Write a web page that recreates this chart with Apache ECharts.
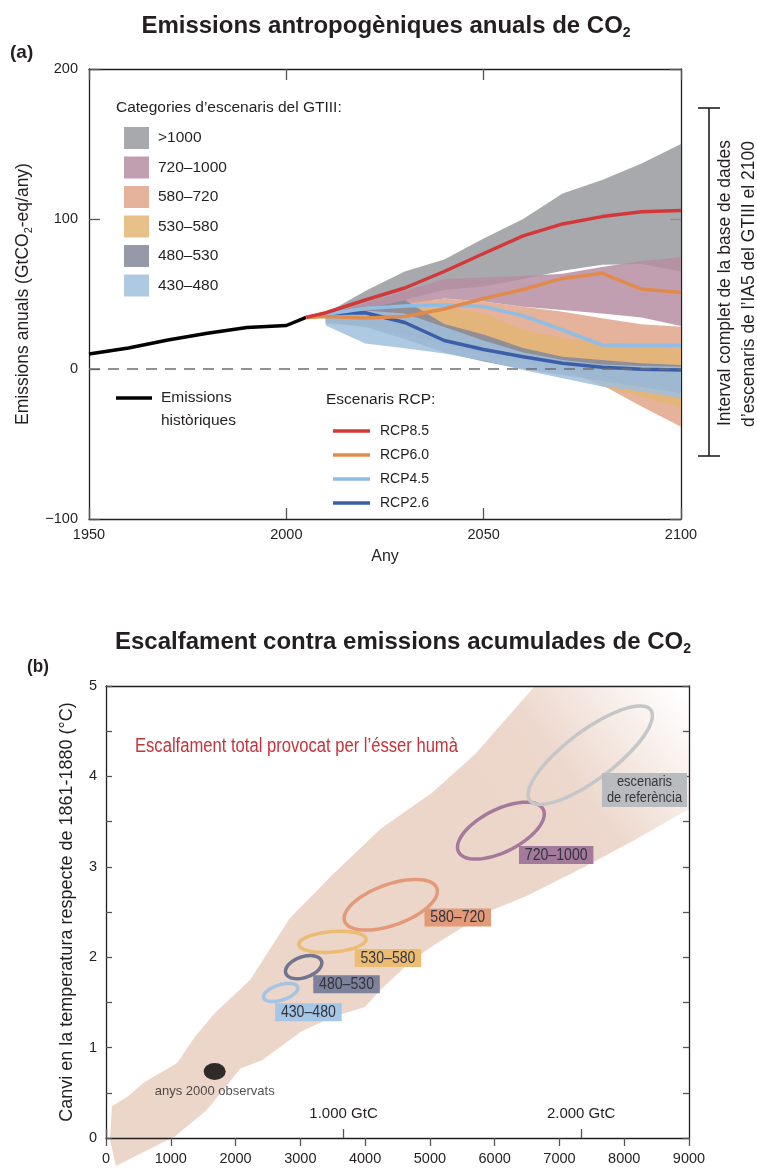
<!DOCTYPE html>
<html><head><meta charset="utf-8">
<script src="https://cdn.jsdelivr.net/npm/echarts@6.0.0/dist/echarts.min.js"></script>
<style>html,body{margin:0;padding:0;background:#fff}#c{width:757px;height:1169px}</style>
</head><body><div id="c"></div>
<script>
// ---------- Panel (a) data ----------
const histYears = [1950, 1960, 1970, 1980, 1990, 2000, 2005];
const histValues = [10, 14, 19.3, 23.8, 27.6, 29, 34.4];

const rcpYears = [2005, 2010, 2020, 2030, 2040, 2050, 2060, 2070, 2080, 2090, 2100];
const rcp85 = [34.4, 37.5, 46, 54, 65, 77, 88.7, 96.7, 101.6, 104.9, 105.6];
const rcp60 = [34.4, 35, 34, 35, 40, 47, 53, 60.4, 63.8, 53.3, 51];
const rcp45 = [34.4, 36.5, 40.4, 42, 42.7, 41.6, 35.5, 26, 16, 15.6, 15.6];
const rcp26 = [34.4, 37, 37.5, 31, 19, 13, 8.2, 3.8, 1.1, -0.2, -0.7];
const rcpNames = ['RCP8.5', 'RCP6.0', 'RCP4.5', 'RCP2.6'];

const bandYears = [2010, 2020, 2030, 2040, 2050, 2060, 2070, 2080, 2090, 2100];
const gt1000Upper = [37, 52, 65, 73, 87, 100, 117, 126, 137, 150];
const gt1000Lower = [34, 40, 46, 52.7, 55, 60, 65.5, 69.5, 70, 65];
const c720Upper = [36, 44, 52, 60, 61, 62, 63.5, 68, 72, 74.5];
const c720Lower = [33, 39, 43, 47, 45, 41.5, 39.3, 37, 34.4, 28.7];
const c580Upper = [35, 40, 44, 47, 45, 41.5, 38.2, 33.8, 29.8, 28.2];
const c580Lower = [30, 30, 26, 18, 12, 6, 0, -10.7, -25, -38.5];
const c530Upper = [34, 37, 40, 41, 37, 26, 20.6, 17, 14.9, 12.7];
const c530Lower = [30, 29, 23, 16, 9, 4, 0, -11.5, -18.5, -26];
const c480Upper = [35, 40, 46, 30, 23, 14, 8.2, 6, 3.8, 2.7];
const c480Lower = [31, 28, 20, 11, 5, 0, -4, -8, -12, -16];
const c430Upper = [35, 39, 37, 28, 19, 11, 6, 3, 2, 1.5];
const c430Lower = [29, 17, 13.8, 10.4, 5.5, -0.7, -6.2, -11.7, -15, -19.5];
const bandNames = ['>1000', '720–1000', '580–720', '530–580', '480–530', '430–480'];
const bracketRange = [-58, 174]; // full AR5 WGIII database range in 2100

// ---------- Panel (b) data ----------
const plumeX = [153, 61, 92, 336, 580, 1098, 1373, 1678, 2227, 2837, 3508, 4241, 5034, 5705, 6620, 9000, 9000, 8146, 7413, 6498, 5888, 5095, 4729, 4241, 3997, 3508, 3020, 2410, 2075, 1556, 1068];
const plumeY = [-0.31, -0.02, 0.35, 0.46, 0.61, 0.83, 1.12, 1.38, 1.75, 2.43, 2.92, 3.42, 3.82, 4.25, 5.0, 5.0, 3.64, 3.29, 3.01, 2.68, 2.50, 2.15, 1.97, 1.64, 1.45, 1.34, 1.18, 0.86, 0.77, 0.31, 0.02];
const ellNames = ['430–480', '480–530', '530–580', '580–720', '720–1000', 'escenaris\nde referència'];
const ellCX = [2697, 3051, 3496, 4396, 6096, 7475];
const ellCY = [1.61, 1.89, 2.17, 2.58, 3.40, 4.235];
const ellA = [265, 280, 520, 720, 670, 960];
const ellB = [0.10, 0.128, 0.117, 0.28, 0.315, 0.545];
const ellPhi = [1.07, 1.2, 1.33, 1.01, 0.95, 0.64];
const labelX = [3124, 3713, 4353, 5430, 6950, 8313];
const labelY = [1.39, 1.70, 1.99, 2.44, 3.13, 3.85];
const obsPoint = [1678, 0.735];
const gtcTicks = [1000, 2000];
const gtco2PerGtc = 3.667;

// ---------- styles ----------
const F = '"Liberation Sans", Arial, sans-serif';
const INK = '#231f20';
const NARROW = 0.83;
const bandLegendColors = ['#a7a9ac', '#c19fb0', '#e5b29c', '#e8c08a', '#9599a9', '#aec9e2'];
const bandFill = ['#989a9d', '#b68ea2', '#e0a48a', '#e4b575', '#82879a', '#a0bfdd'];
const rcpColors = ['#d2383a', '#e08b4c', '#8fbde3', '#3a5ea8'];
const ellStroke = ['#a3c4e4', '#6f7590', '#ecbc73', '#e49a78', '#a5799b', '#c4c6c8'];
const ellBox = ['#a6c6e6', '#7d8199', '#ebbc72', '#e29a79', '#a47a9c', '#b9bcbe'];

const chart = echarts.init(document.getElementById('c'), null, {renderer: 'canvas'});
const axisLine = {show: true, onZero: false, lineStyle: {color: INK, width: 1.3}};
const tickStyle = {color: '#555', width: 1.3};
const plain = v => String(v);

const bandLower = [gt1000Lower, c720Lower, c580Lower, c530Lower, c480Lower, c430Lower];
const bandUpper = [gt1000Upper, c720Upper, c580Upper, c530Upper, c480Upper, c430Upper];

const bandSeries = bandNames.map((nm, k) => ({
  name: nm, type: 'custom', xAxisIndex: 0, yAxisIndex: 0,
  itemStyle: {color: bandLegendColors[k]},
  data: bandYears.map((y, i) => [y, bandLower[k][i], bandUpper[k][i]]),
  encode: {x: 0, y: [1, 2]},
  renderItem: function (params, api) {
    if (params.dataIndex !== 0) return null;
    const pts = [];
    for (let i = 0; i < bandYears.length; i++) pts.push(api.coord([bandYears[i], bandUpper[k][i]]));
    for (let i = bandYears.length - 1; i >= 0; i--) pts.push(api.coord([bandYears[i], bandLower[k][i]]));
    return {type: 'polygon', shape: {points: pts}, style: {fill: bandFill[k], opacity: 0.85}};
  }
}));

const rcpData = [rcp85, rcp60, rcp45, rcp26];
const rcpSeries = [3, 2, 1, 0].map(k => ({
  name: rcpNames[k], type: 'line', xAxisIndex: 0, yAxisIndex: 0,
  color: rcpColors[k], symbol: 'none', lineStyle: {width: 3.5, color: rcpColors[k]},
  data: rcpYears.map((y, i) => [y, rcpData[k][i]]), z: 3
}));

const titleStyle = {fontFamily: F, fontWeight: 'bold', fontSize: 24, color: INK, lineHeight: 28,
  rich: {s: {fontFamily: F, fontWeight: 'bold', fontSize: 14, lineHeight: 14, verticalAlign: 'bottom', color: INK}}};

const option = {
  animation: false,
  backgroundColor: '#fff',
  title: [
    {text: 'Emissions antropogèniques anuals de CO{s|2}', left: 381, top: 7, textAlign: 'center', textStyle: titleStyle},
    {text: 'Escalfament contra emissions acumulades de CO{s|2}', left: 398, top: 623, textAlign: 'center', textStyle: titleStyle}
  ],
  grid: [
    {left: 89, top: 69, width: 592, height: 450},
    {left: 106, top: 686, width: 583, height: 452}
  ],
  legend: [
    {data: bandNames, orient: 'vertical', left: 119, top: 122, icon: 'rect', itemWidth: 25, itemHeight: 22,
     itemGap: 7.5, selectedMode: false, textStyle: {fontFamily: F, fontSize: 15.5, color: INK, padding: [0, 0, 0, 4]}},
    {data: rcpNames, orient: 'vertical', left: 328, top: 418, icon: 'rect', itemWidth: 37, itemHeight: 3.5,
     itemGap: 8, selectedMode: false, textStyle: {fontFamily: F, fontSize: 14, lineHeight: 16, color: INK, padding: [0, 0, 0, 5]}}
  ],
  xAxis: [
    {gridIndex: 0, type: 'value', min: 1950, max: 2100, interval: 50, position: 'bottom', axisLine: axisLine,
     axisTick: {show: true, inside: true, length: 11, lineStyle: tickStyle},
     axisLabel: {fontFamily: F, fontSize: 14.5, color: INK, margin: 8, formatter: plain}, splitLine: {show: false},
     name: 'Any', nameLocation: 'middle', nameGap: 30, nameTextStyle: {fontFamily: F, fontSize: 16, color: INK}},
    {gridIndex: 0, type: 'value', min: 1950, max: 2100, interval: 50, position: 'top', axisLine: axisLine,
     axisTick: {show: true, inside: true, length: 11, lineStyle: tickStyle}, axisLabel: {show: false}, splitLine: {show: false}},
    {gridIndex: 1, type: 'value', min: 0, max: 9000, interval: 1000, position: 'bottom', axisLine: axisLine,
     axisTick: {show: true, inside: false, length: 8, lineStyle: tickStyle},
     axisLabel: {fontFamily: F, fontSize: 14.5, color: INK, margin: 13, formatter: plain}, splitLine: {show: false}},
    {gridIndex: 1, type: 'value', min: 0, max: 9000, position: 'top', axisLine: axisLine,
     axisTick: {show: false}, axisLabel: {show: false}, splitLine: {show: false}},
    {gridIndex: 1, type: 'value', min: 0, max: 9000 / gtco2PerGtc, interval: 1000, position: 'bottom',
     axisLine: {show: false, onZero: false}, axisTick: {show: true, inside: true, length: 9, lineStyle: tickStyle,
       interval: function (i, v) { return gtcTicks.indexOf(v) >= 0; }},
     axisLabel: {inside: true, margin: 17, fontFamily: F, fontSize: 15, color: INK, showMaxLabel: false,
       formatter: function (v) { return gtcTicks.indexOf(v) >= 0 ? (v / 1000) + '.000 GtC' : ''; }},
     splitLine: {show: false}}
  ],
  yAxis: [
    {gridIndex: 0, type: 'value', min: -100, max: 200, interval: 100, position: 'left', axisLine: axisLine,
     axisTick: {show: true, inside: true, length: 11, lineStyle: tickStyle},
     axisLabel: {fontFamily: F, fontSize: 14.5, color: INK, margin: 11, formatter: v => v < 0 ? '−' + (-v) : String(v)},
     splitLine: {show: false},
     name: 'Emissions anuals (GtCO{s|2}-eq/any)', nameLocation: 'middle', nameRotate: 90, nameGap: 46,
     nameTextStyle: {fontFamily: F, fontSize: 17.5, color: INK, lineHeight: 22,
       rich: {s: {fontFamily: F, fontSize: 11, lineHeight: 11, verticalAlign: 'bottom', color: INK}}}},
    {gridIndex: 0, type: 'value', min: -100, max: 200, interval: 100, position: 'right', axisLine: axisLine,
     axisTick: {show: true, inside: true, length: 11, lineStyle: tickStyle}, axisLabel: {show: false}, splitLine: {show: false}},
    {gridIndex: 1, type: 'value', min: 0, max: 5, interval: 0.5, position: 'left', axisLine: axisLine,
     axisTick: {show: true, inside: true, length: 6, lineStyle: tickStyle},
     axisLabel: {fontFamily: F, fontSize: 14.5, color: INK, margin: 9, formatter: v => (v % 1 === 0 ? String(v) : '')},
     splitLine: {show: false},
     name: 'Canvi en la temperatura respecte de 1861-1880 (°C)', nameLocation: 'middle', nameRotate: 90, nameGap: 30,
     nameTextStyle: {fontFamily: F, fontSize: 18, color: INK}},
    {gridIndex: 1, type: 'value', min: 0, max: 5, interval: 0.5, position: 'right', axisLine: axisLine,
     axisTick: {show: true, inside: true, length: 6, lineStyle: tickStyle}, axisLabel: {show: false}, splitLine: {show: false}}
  ],
  graphic: [
    {type: 'text', x: 10, y: 53, style: {text: '(a)', font: 'bold 19px ' + F, fill: INK, verticalAlign: 'middle'}},
    {type: 'text', x: 27, y: 667, scaleX: 0.9, style: {text: '(b)', font: 'bold 19px ' + F, fill: INK, verticalAlign: 'middle'}},
    {type: 'text', x: 116, y: 108, style: {text: 'Categories d’escenaris del GTIII:', font: '15.5px ' + F, fill: INK, verticalAlign: 'middle'}},
    {type: 'text', x: 326, y: 400, style: {text: 'Escenaris RCP:', font: '15.5px ' + F, fill: INK, verticalAlign: 'middle'}},
    {type: 'line', shape: {x1: 116, y1: 398, x2: 152, y2: 398}, style: {stroke: '#000', lineWidth: 3.5}},
    {type: 'text', x: 161, y: 398, style: {text: 'Emissions', font: '15.5px ' + F, fill: INK, verticalAlign: 'middle'}},
    {type: 'text', x: 161, y: 421, style: {text: 'històriques', font: '15.5px ' + F, fill: INK, verticalAlign: 'middle'}},
    {type: 'text', x: 725, y: 283, rotation: Math.PI / 2, style: {text: 'Interval complet de la base de dades', font: '17.5px ' + F, fill: INK, align: 'center', verticalAlign: 'middle'}},
    {type: 'text', x: 749, y: 284, rotation: Math.PI / 2, style: {text: 'd’escenaris de l’IA5 del GTIII el 2100', font: '17.5px ' + F, fill: INK, align: 'center', verticalAlign: 'middle'}},
    {type: 'text', x: 135, y: 746, scaleX: NARROW, style: {text: 'Escalfament total provocat per l’ésser humà', font: '20px ' + F, fill: '#c8313a', verticalAlign: 'middle'}}
  ],
  series: [].concat(bandSeries, [
    {name: 'Emissions històriques', type: 'line', xAxisIndex: 0, yAxisIndex: 0, symbol: 'none', color: '#000',
     lineStyle: {width: 3.5, color: '#000'}, data: histYears.map((y, i) => [y, histValues[i]]), z: 3,
     markLine: {silent: true, symbol: 'none', label: {show: false}, lineStyle: {color: '#6d6e71', type: [11, 8], width: 1.5},
       data: [{yAxis: 0}]}}
  ], rcpSeries, [
    {name: 'bracket', type: 'custom', xAxisIndex: 0, yAxisIndex: 0, data: [[2100, bracketRange[0], bracketRange[1]]],
     renderItem: function (params, api) {
       const t = api.coord([api.value(0), api.value(2)]);
       const b = api.coord([api.value(0), api.value(1)]);
       const x = t[0] + 28, st = {stroke: INK, lineWidth: 1.6};
       return {type: 'group', children: [
         {type: 'line', shape: {x1: x, y1: t[1], x2: x, y2: b[1]}, style: st},
         {type: 'line', shape: {x1: x - 11, y1: t[1], x2: x + 11, y2: t[1]}, style: st},
         {type: 'line', shape: {x1: x - 11, y1: b[1], x2: x + 11, y2: b[1]}, style: st}
       ]};
     }},
    {name: 'plume', type: 'custom', xAxisIndex: 2, yAxisIndex: 2, z: -1,
     data: plumeX.map((x, i) => [x, plumeY[i]]),
     renderItem: function (params, api) {
       if (params.dataIndex !== 0) return null;
       const pts = plumeX.map((x, i) => api.coord([x, plumeY[i]]));
       const p1 = api.coord([6000, 3.8]), p2 = api.coord([8600, 5.2]);
       const grad = new echarts.graphic.LinearGradient(p1[0], p1[1], p2[0], p2[1], [
         {offset: 0, color: 'rgba(236,213,201,1)'},
         {offset: 0.35, color: 'rgba(236,213,201,0.92)'},
         {offset: 1, color: 'rgba(236,213,201,0)'}], true);
       return {type: 'polygon', shape: {points: pts}, style: {fill: grad}};
     }},
    {name: 'ellipses', type: 'custom', xAxisIndex: 2, yAxisIndex: 2,
     data: ellCX.map((x, i) => [x, ellCY[i], ellA[i], ellB[i], ellPhi[i]]),
     renderItem: function (params, api) {
       const i = params.dataIndex;
       const cx = api.value(0), cy = api.value(1), A = api.value(2), B = api.value(3), ph = api.value(4);
       const pts = [];
       for (let s = 0; s < 72; s++) {
         const t = s / 72 * Math.PI * 2;
         pts.push(api.coord([cx + A * Math.cos(t), cy + B * Math.cos(t + ph)]));
       }
       return {type: 'polygon', shape: {points: pts}, style: {fill: 'none', stroke: ellStroke[i], lineWidth: 3.5}};
     }},
    {name: 'ellLabels', type: 'custom', xAxisIndex: 2, yAxisIndex: 2,
     data: labelX.map((x, i) => [x, labelY[i]]),
     renderItem: function (params, api) {
       const i = params.dataIndex;
       const p = api.coord([api.value(0), api.value(1)]);
       const ref = i === ellNames.length - 1;
       return {type: 'text', x: p[0], y: p[1], scaleX: NARROW, style: {
         text: ellNames[i], align: 'center', verticalAlign: 'middle',
         font: (ref ? '15.5px ' : '17px ') + F, fill: '#34333f', lineHeight: ref ? 16 : 17,
         backgroundColor: ellBox[i], padding: ref ? [1, 6, 1, 6] : [1, 7, 0, 7]}};
     }},
    {name: 'anys 2000 observats', type: 'scatter', xAxisIndex: 2, yAxisIndex: 2, symbol: 'circle', symbolSize: [22, 17],
     itemStyle: {color: '#000'}, data: [obsPoint],
     label: {show: true, position: 'bottom', distance: 5, formatter: 'anys 2000 observats', fontFamily: F, fontSize: 13, color: INK}}
  ])
};
chart.setOption(option);
</script></body></html>
